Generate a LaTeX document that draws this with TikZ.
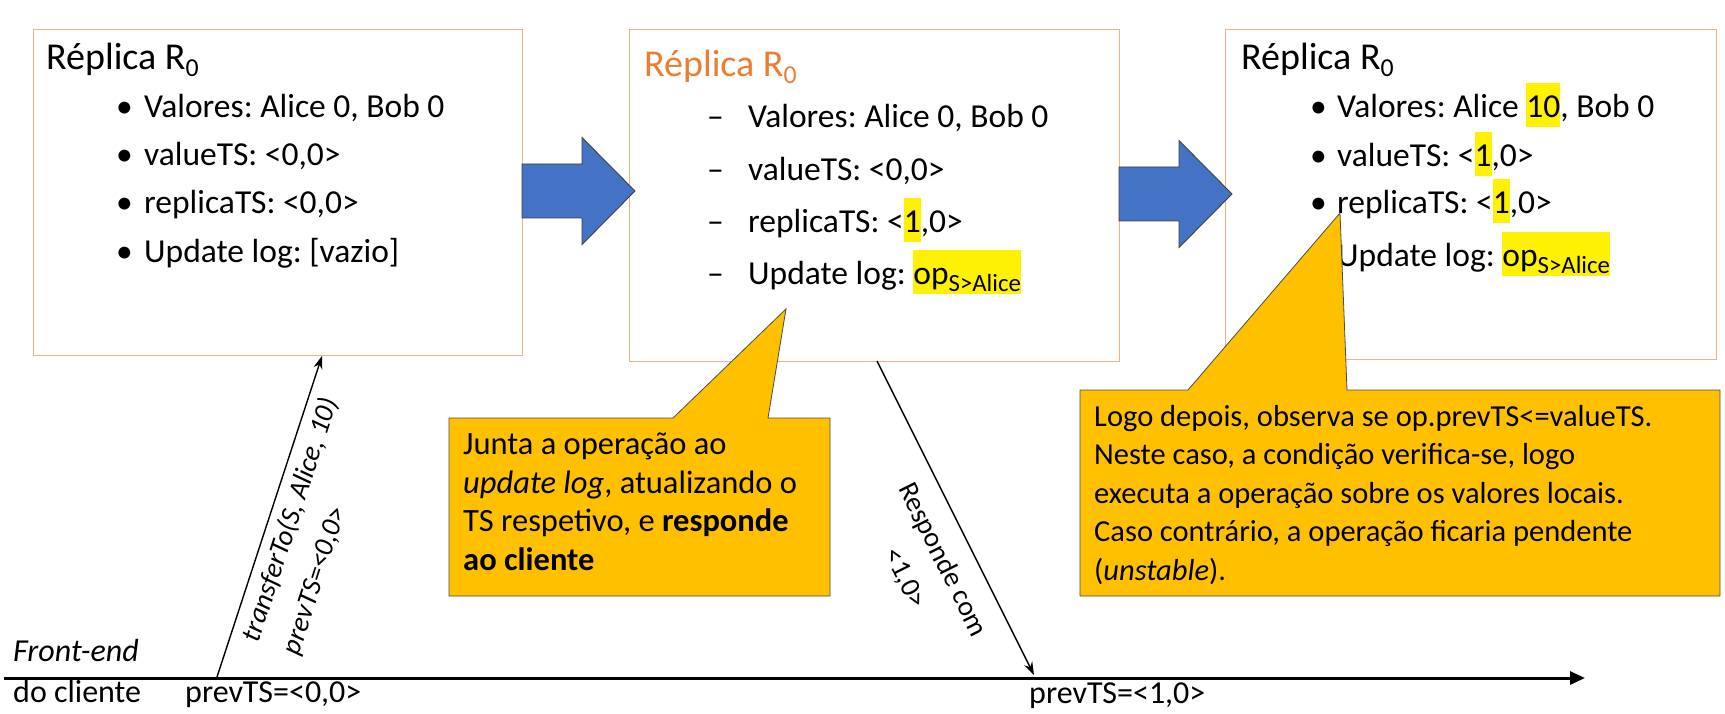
\documentclass[tikz,border=0pt]{standalone}
\usepackage{fontspec}
\setmainfont{Carlito}
\frenchspacing
\usetikzlibrary{arrows.meta}
\definecolor{boxline}{HTML}{F4B183}
\definecolor{titleorange}{HTML}{ED7D31}
\definecolor{blockblue}{HTML}{4472C4}
\definecolor{calloutfill}{HTML}{FFC000}
\newcommand{\hlbox}[1]{{\setlength{\fboxsep}{0pt}\colorbox{yellow}{\rule[-0.28em]{0pt}{1.32em}#1}}}
\newcommand{\lowidx}[3][0.68]{\raisebox{-#2em}{\scalebox{#1}{#3}}}
\tikzset{
    replica/.style={draw=boxline, line width=1.2pt, fill=white, anchor=north west, inner sep=0pt},
    boxtitle/.style={anchor=base west, inner sep=0pt, font=\fontsize{38}{46}\selectfont},
    item/.style={anchor=base west, inner sep=0pt, font=\fontsize{33.5}{40}\selectfont},
    bigarrow/.style={fill=blockblue, draw=black!75, line width=0.9pt},
    callout/.style={fill=calloutfill, draw=black!70, line width=0.8pt},
    note/.style={anchor=base west, inner sep=0pt, align=left},
    msg/.style={-{Stealth[length=13pt, width=9pt]}, line width=1.4pt},
    msglabel/.style={sloped, inner sep=0pt, font=\fontsize{28}{42}\selectfont},
    timeline/.style={-{Triangle[length=15pt, width=13pt]}, line width=3pt},
    felabel/.style={anchor=base west, inner sep=0pt, font=\fontsize{32}{38}\selectfont}
}
\begin{document}
\begin{tikzpicture}[x=1pt, y=-1pt]
    \useasboundingbox (0,0) rectangle (1725,714);

    % replica boxes
    \node[replica, minimum width=489pt, minimum height=326pt] (box1) at (33,29) {};
    \node[replica, minimum width=490pt, minimum height=332pt] (box2) at (629,29) {};
    \node[replica, minimum width=491pt, minimum height=330pt] (box3) at (1225,29) {};

    % state before the request
    \node[boxtitle] (title1) at (46,70) {Réplica R\lowidx{0.18}{0}};
    \foreach \y/\txt [count=\i] in {118/{Valores: Alice 0, Bob 0}, 166/{valueTS: <0,0>},
                                    214/{replicaTS: <0,0>}, 263/{Update log: [vazio]}} {
        \node[item] (dot1\i) at (116,\y) {•};
        \node[item] (line1\i) at (144,\y) {\txt};
    }

    % state after the request
    \node[boxtitle, text=titleorange] (title2) at (644,77) {Réplica R\lowidx{0.18}{0}};
    \foreach \y/\txt [count=\i] in {128/{Valores: Alice 0, Bob 0}, 181/{valueTS: <0,0>},
                                    233/{replicaTS: <\hlbox{1},0>}, 285/{Update log: \hlbox{op\lowidx[0.74]{0.2}{S>Alice}}}} {
        \node[item] (dash2\i) at (707,\y) {–};
        \node[item] (line2\i) at (748,\y) {\txt};
    }

    % state after executing
    \node[boxtitle] (title3) at (1241,70) {Réplica R\lowidx{0.18}{0}};
    \foreach \y/\txt [count=\i] in {118/{Valores: Alice \hlbox{10}, Bob 0}, 167/{valueTS: <\hlbox{1},0>},
                                    214/{replicaTS: <\hlbox{1},0>}, 267/{Update log: \hlbox{op\lowidx[0.74]{0.2}{S>Alice}}}} {
        \node[item] (dot3\i) at (1310,\y) {•};
        \node[item] (line3\i) at (1337,\y) {\txt};
    }

    % block arrows between states
    \foreach \x/\y in {522/191, 1119/194}
        \draw[bigarrow] (\x,\y-27) -- ++(60,0) -- ++(0,-26.5) -- (\x+113,\y)
            -- (\x+60,\y+53.5) -- ++(0,-26.5) -- (\x,\y+27) -- cycle;

    % callouts (text anchored at the last baseline)
    \draw[callout] (449,418) -- (673,418) -- (786,309) -- (768,418) -- (830,418)
        -- (830,596) -- (449,596) -- cycle;
    \node[note, font=\fontsize{32.5}{38.5}\selectfont] (note1) at (463,570) {Junta a operação ao\\
        \textit{update log}, atualizando o\\TS respetivo, e \textbf{responde}\\\textbf{ao cliente}};
    \draw[callout] (1080,390) -- (1188,390) -- (1340,213) -- (1347,390) -- (1720,390)
        -- (1720,596) -- (1080,596) -- cycle;
    \node[note, font=\fontsize{30.5}{38.5}\selectfont] (note2) at (1094,580) {Logo depois, observa se op.prevTS<=valueTS.\\
        Neste caso, a condição verifica-se, logo\\executa a operação sobre os valores locais.\\
        Caso contrário, a operação ficaria pendente\\(\textit{unstable}).};

    % front-end timeline
    \coordinate (fe0) at (4,678);
    \coordinate (fe1) at (1585,678);
    \draw[timeline] (fe0) -- (fe1);
    \node[felabel, font=\itshape\fontsize{32}{38}\selectfont] (fe) at (13,661) {Front-end};
    \node[felabel] (client) at (13,702) {do cliente};
    \node[felabel] (ts0) at (185,702) {prevTS=<0,0>};
    \node[felabel] (ts1) at (1029,703) {prevTS=<1,0>};

    % request and reply
    \coordinate (req0) at (217,677);
    \coordinate (req1) at (322,356);
    \draw[msg] (req0) -- node[msglabel, below=8pt, pos=0.51, align=left, font=\itshape\fontsize{28}{42}\selectfont]
        (reqlabel) {transferTo(S, Alice, 10)\\prevTS=<0,0>} (req1);
    \coordinate (rep0) at (877,361);
    \coordinate (rep1) at (1034,675);
    \draw[msg] (rep0) -- node[msglabel, below=18pt, pos=0.59, align=center]
        (replabel) {Responde com\\<1,0>} (rep1);
\end{tikzpicture}
\end{document}
